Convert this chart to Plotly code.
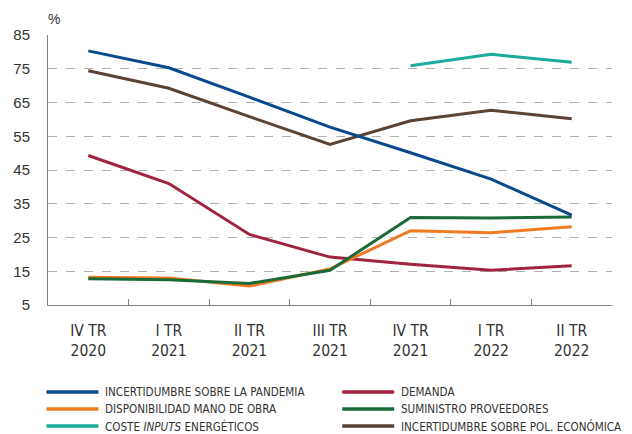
import plotly.graph_objects as go

categories = ["IV TR<br>2020", "I TR<br>2021", "II TR<br>2021", "III TR<br>2021",
              "IV TR<br>2021", "I TR<br>2022", "II TR<br>2022"]

pandemia = [80.3, 75.3, 66.6, 57.7, 50.1, 42.3, 31.6]
demanda = [49.3, 41.0, 25.9, 19.2, 17.1, 15.3, 16.6]
mano_obra = [13.2, 13.0, 10.6, 15.7, 27.0, 26.4, 28.2]
proveedores = [12.8, 12.5, 11.4, 15.3, 30.9, 30.8, 31.1]
energeticos = [None, None, None, None, 75.9, 79.3, 76.9]
pol_economica = [74.4, 69.2, 60.8, 52.6, 59.6, 62.7, 60.2]

series = [
    ("INCERTIDUMBRE SOBRE LA PANDEMIA", pandemia, "#0a4a8c"),
    ("DEMANDA", demanda, "#a0243f"),
    ("DISPONIBILIDAD MANO DE OBRA", mano_obra, "#f07a22"),
    ("SUMINISTRO PROVEEDORES", proveedores, "#1b6b38"),
    ("COSTE <i>INPUTS</i> ENERGÉTICOS", energeticos, "#1aab9c"),
    ("INCERTIDUMBRE SOBRE POL. ECONÓMICA", pol_economica, "#5c4334"),
]

NARROW = "DejaVu Sans Condensed, Liberation Sans Narrow, Arial Narrow, Liberation Sans, sans-serif"
REG = "Liberation Sans, Arial, sans-serif"

fig = go.Figure()
for name, vals, color in [series[5], series[4], series[1], series[2], series[3], series[0]]:
    fig.add_trace(go.Scatter(x=categories, y=vals, mode="lines", name=name,
                             line=dict(color=color, width=3), showlegend=False,
                             connectgaps=False))

# page has an 8px body margin; figure is sized/offset to compensate
OFF = 8
W, H = 632 - OFF, 434 - OFF
ml, mr, mt, mb = 47.5 - OFF, 20, 35 - OFF, 129

fig.update_layout(
    template="none",
    width=W, height=H,
    margin=dict(l=ml, r=mr, t=mt, b=mb, pad=0, autoexpand=False),
    paper_bgcolor="white", plot_bgcolor="white",
    showlegend=False,
    xaxis=dict(
        type="category", showgrid=False, showline=True, linecolor="#808080", linewidth=1,
        ticks="inside", tickson="boundaries", ticklen=6, tickcolor="#808080",
        tickfont=dict(family=NARROW, size=15.5, color="#333333"),
        ticklabelstandoff=11, automargin=False,
        range=[-0.5, 6.5], fixedrange=True, zeroline=False,
    ),
    yaxis=dict(
        range=[5, 85], tickvals=[5, 15, 25, 35, 45, 55, 65, 75, 85],
        showgrid=True, gridcolor="#b0b0b0", griddash="dash", gridwidth=1,
        showline=True, linecolor="#808080", linewidth=1, zeroline=False,
        ticks="", ticklabelstandoff=14, automargin=False,
        tickfont=dict(family=REG, size=15, color="#333333"),
    ),
)

fig.add_annotation(text="%", xref="paper", yref="paper", x=0, y=1, yshift=6, xshift=-2,
                   xanchor="left", yanchor="bottom", showarrow=False,
                   font=dict(family=REG, size=14, color="#333333"))

# manual legend (2 columns x 3 rows), positions given in page pixels
col_x0 = [46, 342]
row_y = [392, 409, 426]
pw = W - ml - mr
ph = H - mt - mb
for i, (name, vals, color) in enumerate(series):
    c, r = i % 2, i // 2
    px0 = col_x0[c] - OFF
    py = row_y[r] - OFF
    yy = (H - mb - py) / ph
    fig.add_shape(type="line", xref="paper", yref="paper",
                  x0=(px0 - ml) / pw, x1=(px0 + 52 - ml) / pw, y0=yy, y1=yy,
                  line=dict(color=color, width=3.5))
    fig.add_annotation(text=name, xref="paper", yref="paper",
                       x=(px0 + 57 - ml) / pw, y=yy, xanchor="left", yanchor="middle",
                       showarrow=False,
                       font=dict(family=NARROW, size=11.6, color="#333333"))

fig.write_html("out.html")
